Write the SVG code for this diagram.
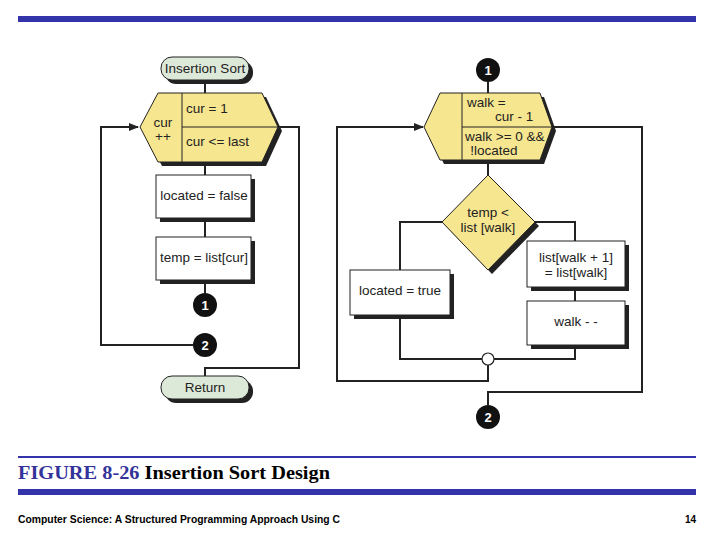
<svg xmlns="http://www.w3.org/2000/svg" width="720" height="540" viewBox="0 0 720 540">
<style>
.t{font-family:"Liberation Sans",Arial,sans-serif;font-size:13.5px;fill:#222}
.c{text-anchor:middle}
.ln{fill:none;stroke:#222;stroke-width:2}
.box{fill:#fff;stroke:#222;stroke-width:1}
.sh{fill:#222}
.hex{fill:#f7e690;stroke:#222;stroke-width:1}
.term{fill:#dde9d8;stroke:#222;stroke-width:1}
.conn{fill:#111}
.ct{font-family:"Liberation Sans",Arial,sans-serif;font-size:13px;font-weight:bold;fill:#fff;text-anchor:middle}
</style>
<defs><marker id="ar" markerWidth="10" markerHeight="8" refX="9" refY="4" orient="auto" markerUnits="userSpaceOnUse"><path d="M0,0L10,4L0,8z" fill="#222"/></marker></defs>
<rect x="18" y="16" width="678" height="6" fill="#3333aa"/>
<g id="connectors">
<path class="ln" d="M205,80V93M205,162V175M205,218V237M205,280V293"/>
<path class="ln" d="M193,345H101V127H138" marker-end="url(#ar)"/>
<path class="ln" d="M278,127H299V368H205V377"/>
<path class="ln" d="M488,82V93M488,160V175"/>
<path class="ln" d="M442,222H400V270M535,222H575V241M575,287V301M575,345V359H494M482,359H400V315"/>
<path class="ln" d="M488,365V381H337V127H423" marker-end="url(#ar)"/>
<path class="ln" d="M552,127H642V392H488V405"/>
</g>
<g id="start"><rect x="165" y="61" width="88" height="23" rx="11" class="sh"/><rect x="161" y="57" width="88" height="23" rx="11" class="term"/><text x="205" y="73" class="t c">Insertion Sort</text></g>
<g id="loop1"><polygon points="144,131 162,97 266,97 282,131 266,166 162,166" class="sh"/><polygon points="140,127 158,93 262,93 278,127 262,162 158,162" class="hex"/><path d="M182,93V162M182,127H278" stroke="#222"/><text x="163" y="127" class="t c">cur</text><text x="163" y="141" class="t c">++</text><text x="186" y="113" class="t">cur  =  1</text><text x="186" y="146" class="t">cur &lt;=  last</text></g>
<g id="locf"><rect x="160" y="179" width="95" height="43" class="sh"/><rect x="156" y="175" width="95" height="43" class="box"/><text x="204" y="200" class="t c">located = false</text></g>
<g id="temp"><rect x="160" y="241" width="95" height="43" class="sh"/><rect x="156" y="237" width="95" height="43" class="box"/><text x="204" y="262" class="t c">temp = list[cur]</text></g>
<g id="c1a"><circle cx="205" cy="305" r="12" class="conn"/><text x="205" y="310" class="ct">1</text></g>
<g id="c2a"><circle cx="205" cy="345" r="12" class="conn"/><text x="205" y="350" class="ct">2</text></g>
<g id="ret"><rect x="165" y="380" width="88" height="23" rx="11" class="sh"/><rect x="161" y="376" width="88" height="23" rx="11" class="term"/><text x="205" y="392" class="t c">Return</text></g>
<g id="c1b"><circle cx="488" cy="70" r="12" class="conn"/><text x="488" y="75" class="ct">1</text></g>
<g id="loop2"><polygon points="428,131 444,97 544,97 556,131 544,164 444,164" class="sh"/><polygon points="424,127 440,93 540,93 552,127 540,160 440,160" class="hex"/><path d="M462,93V160M462,127H552" stroke="#222"/><text x="467" y="107" class="t">walk =</text><text x="495" y="121" class="t">cur  -  1</text><text x="465" y="141" class="t">walk &gt;= 0 &amp;&amp;</text><text x="494" y="155" class="t c">!located</text></g>
<g id="dec"><polygon points="492,179 539,226 492,274 446,226" class="sh"/><polygon points="488,175 535,222 488,270 442,222" class="hex"/><text x="488" y="217" class="t c">temp &lt;</text><text x="488" y="232" class="t c">list [walk]</text></g>
<g id="loct"><rect x="354" y="274" width="100" height="45" class="sh"/><rect x="350" y="270" width="100" height="45" class="box"/><text x="400" y="295" class="t c">located = true</text></g>
<g id="shift"><rect x="531" y="245" width="98" height="46" class="sh"/><rect x="527" y="241" width="98" height="46" class="box"/><text x="576" y="262" class="t c">list[walk + 1]</text><text x="576" y="277" class="t c">= list[walk]</text></g>
<g id="walkdec"><rect x="531" y="305" width="98" height="44" class="sh"/><rect x="527" y="301" width="98" height="44" class="box"/><text x="576" y="326" class="t c">walk - -</text></g>
<g id="junc"><circle cx="488" cy="359" r="6" fill="#fff" stroke="#222" stroke-width="1.2"/></g>
<g id="c2b"><circle cx="488" cy="417" r="12" class="conn"/><text x="488" y="422" class="ct">2</text></g>
<rect x="18" y="456" width="678" height="2" fill="#3333aa"/>
<text x="18" y="479" font-family="Liberation Serif,serif" font-size="18" font-weight="bold" textLength="312" lengthAdjust="spacingAndGlyphs"><tspan fill="#333399">FIGURE 8-26</tspan><tspan fill="#000">  Insertion Sort Design</tspan></text>
<rect x="18" y="489" width="678" height="6" fill="#3333aa"/>
<text x="18" y="523" font-family="Liberation Sans,sans-serif" font-size="10" font-weight="bold" fill="#000" textLength="322" lengthAdjust="spacingAndGlyphs">Computer Science: A Structured Programming Approach Using C</text>
<text x="696" y="523" font-family="Liberation Sans,sans-serif" font-size="10" font-weight="bold" fill="#000" text-anchor="end">14</text>
</svg>
